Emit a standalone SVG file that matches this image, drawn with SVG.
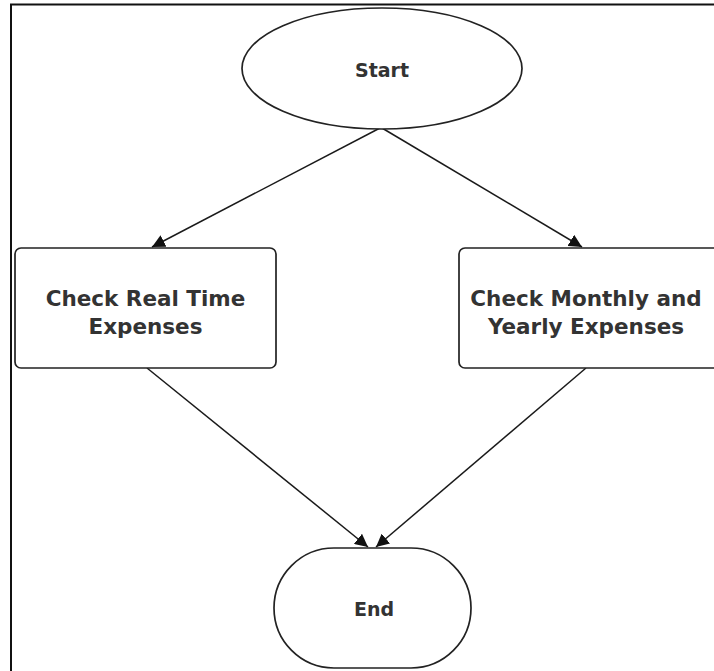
<svg xmlns="http://www.w3.org/2000/svg" width="714" height="671" viewBox="0 0 714 671">
  <style>
    .shape { fill: #ffffff; stroke: #222222; stroke-width: 1.7; }
    .label { font-family: "DejaVu Sans", Verdana, sans-serif; font-weight: bold; fill: #333333; text-anchor: middle; }
    .box-label { font-size: 21.5px; }
    .term-label { font-size: 19px; }
    .edge { fill: none; stroke: #1a1a1a; stroke-width: 1.5; }
  </style>
  <defs>
    <marker id="arrow" viewBox="0 0 10 10" refX="10" refY="5" markerWidth="13" markerHeight="13" markerUnits="userSpaceOnUse" orient="auto">
      <path d="M0,0 L10,5 L0,10 Z" fill="#111111"/>
    </marker>
  </defs>

  <rect width="714" height="671" fill="#ffffff"/>
  <!-- frame -->
  <path d="M11,671 V4.5 H714" fill="none" stroke="#111111" stroke-width="2"/>

  <g id="connectors">
    <line class="edge" x1="380" y1="128" x2="152" y2="247" marker-end="url(#arrow)"/>
    <line class="edge" x1="382" y1="128" x2="582" y2="247" marker-end="url(#arrow)"/>
    <line class="edge" x1="147" y1="368" x2="368" y2="547" marker-end="url(#arrow)"/>
    <line class="edge" x1="586" y1="368" x2="376" y2="547" marker-end="url(#arrow)"/>
  </g>

  <g id="start">
    <ellipse class="shape" cx="382" cy="68.5" rx="140" ry="60.5"/>
    <text class="label term-label" x="382" y="77">Start</text>
  </g>

  <g id="check-real-time">
    <rect class="shape" x="15" y="248" width="261" height="120" rx="6"/>
    <text class="label box-label" x="145.5" y="306">Check Real Time</text>
    <text class="label box-label" x="145.5" y="334">Expenses</text>
  </g>

  <g id="check-monthly-yearly">
    <rect class="shape" x="459" y="248" width="261" height="120" rx="6"/>
    <text class="label box-label" x="586" y="306">Check Monthly and</text>
    <text class="label box-label" x="586" y="334">Yearly Expenses</text>
  </g>

  <g id="end">
    <rect class="shape" x="274" y="548" width="197" height="120" rx="60" ry="60"/>
    <text class="label term-label" x="374" y="616">End</text>
  </g>
</svg>
